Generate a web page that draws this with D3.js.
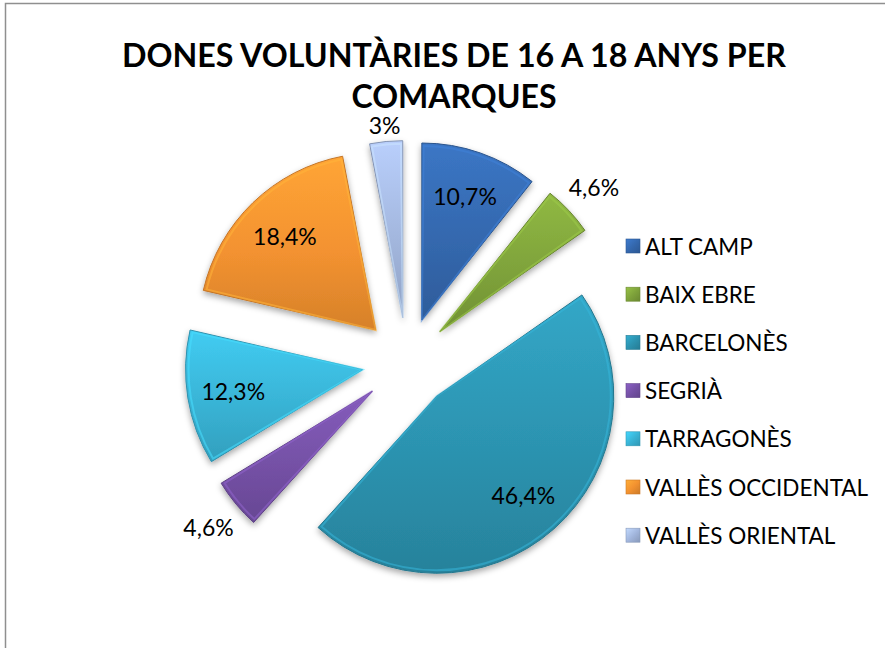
<!DOCTYPE html>
<html><head><meta charset="utf-8">
<script src="https://cdn.jsdelivr.net/npm/d3@7/dist/d3.min.js"></script>
<style>html,body{margin:0;padding:0;background:#fff;}svg{display:block;}</style>
</head><body>
<svg id="chart" width="885" height="648"></svg>
<script>
const titleLines = ["DONES VOLUNTÀRIES DE 16 A 18 ANYS PER", "COMARQUES"];
const categories = ["ALT CAMP", "BAIX EBRE", "BARCELONÈS", "SEGRIÀ", "TARRAGONÈS", "VALLÈS OCCIDENTAL", "VALLÈS ORIENTAL"];
const values = [10.7, 4.6, 46.4, 4.6, 12.3, 18.4, 3];
const labels = ["10,7%", "4,6%", "46,4%", "4,6%", "12,3%", "18,4%", "3%"];
const colors = ["#3468AE", "#7FA33B", "#2C93B0", "#7551A6", "#39B4D6", "#F39230", "#A3B7DE"];

const svg = d3.select("#chart");
const W = 885, H = 648;
const font = "Lato, 'Open Sans', sans-serif";

// chart border
svg.append("rect").attr("x", 5.5).attr("y", 3.5).attr("width", W + 20).attr("height", H + 20)
  .attr("fill", "#fff").attr("stroke", "#8f8f8f").attr("stroke-width", 1.5);

const defs = svg.append("defs");
const sh = defs.append("filter").attr("id", "shadow").attr("x", "-20%").attr("y", "-20%").attr("width", "140%").attr("height", "140%");
sh.append("feDropShadow").attr("dx", 0).attr("dy", 3).attr("stdDeviation", 3)
  .attr("flood-color", "#000").attr("flood-opacity", 0.35);

colors.forEach((c, i) => {
  const g = defs.append("linearGradient").attr("id", "grad" + i)
    .attr("x1", 0).attr("y1", 0).attr("x2", 0).attr("y2", 1);
  g.append("stop").attr("offset", "0%").attr("stop-color", d3.color(c).brighter(0.35));
  g.append("stop").attr("offset", "55%").attr("stop-color", c);
  g.append("stop").attr("offset", "100%").attr("stop-color", d3.color(c).darker(0.35));
  const lg = defs.append("linearGradient").attr("id", "lgrad" + i)
    .attr("x1", 0).attr("y1", 0).attr("x2", 1).attr("y2", 1);
  lg.append("stop").attr("offset", "0%").attr("stop-color", d3.color(c).brighter(0.5));
  lg.append("stop").attr("offset", "50%").attr("stop-color", c);
  lg.append("stop").attr("offset", "100%").attr("stop-color", d3.color(c).darker(0.5));
});

// title
const titleWidths = [664, 205];
const title = svg.append("text").attr("x", 454).attr("text-anchor", "middle")
  .attr("font-family", font).attr("font-weight", "bold").attr("font-size", 33).attr("fill", "#000");
titleLines.forEach((t, i) => {
  title.append("tspan").attr("x", 454).attr("y", 67 + i * 41)
    .attr("textLength", titleWidths[i]).attr("lengthAdjust", "spacingAndGlyphs").text(t);
});

// pie
const cx = 407, cy = 362.5, R = 177, explode = 45;
const pie = d3.pie().sort(null).value(d => d)(values);
const arc = d3.arc().innerRadius(0).outerRadius(R);
const labelArc = d3.arc().innerRadius(R * 0.74).outerRadius(R * 0.74);

const g = svg.append("g").attr("transform", `translate(${cx},${cy})`);
const mid = d => (d.startAngle + d.endAngle) / 2;
const off = d => [explode * Math.sin(mid(d)), -explode * Math.cos(mid(d))];

const slices = g.selectAll("g.slice").data(pie).join("g").attr("class", "slice")
  .attr("transform", d => `translate(${off(d)[0]},${off(d)[1]})`);

slices.append("path").attr("d", arc)
  .attr("fill", (d, i) => `url(#grad${i})`)
  .attr("stroke", (d, i) => d3.color(colors[i]).darker(0.6))
  .attr("stroke-width", 1)
  .attr("filter", "url(#shadow)");

// inner bevel highlight
const bevelArc = d3.arc().innerRadius(0).outerRadius(R - 3);
slices.append("path").attr("d", d => bevelArc({startAngle: d.startAngle + 0.01, endAngle: d.endAngle - 0.01}))
  .attr("fill", "none")
  .attr("stroke", (d, i) => d3.color(colors[i]).brighter(0.6))
  .attr("stroke-opacity", 0.55)
  .attr("stroke-width", 2);

// labels
slices.append("text")
  .attr("transform", (d, i) => {
    if (values[i] < 5) {
      const m = mid(d);
      const r = R + 14 + 28 * Math.abs(Math.sin(m));
      return `translate(${r * Math.sin(m)},${-r * Math.cos(m)})`;
    }
    const c = labelArc.centroid(d);
    return `translate(${c[0]},${c[1]})`;
  })
  .attr("text-anchor", "middle").attr("dominant-baseline", "central")
  .attr("font-family", font).attr("font-size", 23).attr("fill", "#000")
  .text((d, i) => labels[i]);

// legend
const legend = svg.append("g").attr("transform", "translate(626,246)");
const rows = legend.selectAll("g").data(categories).join("g")
  .attr("transform", (d, i) => `translate(0,${i * 48.2})`);
rows.append("rect").attr("x", 0).attr("y", -7).attr("width", 14).attr("height", 14)
  .attr("fill", (d, i) => `url(#lgrad${i})`)
  .attr("stroke", (d, i) => d3.color(colors[i]).darker(0.5)).attr("stroke-width", 0.6);
rows.append("text").attr("x", 19).attr("y", 0).attr("dominant-baseline", "central")
  .attr("font-family", font).attr("font-size", 22.5).attr("fill", "#000")
  .text(d => d);
</script>
</body></html>
